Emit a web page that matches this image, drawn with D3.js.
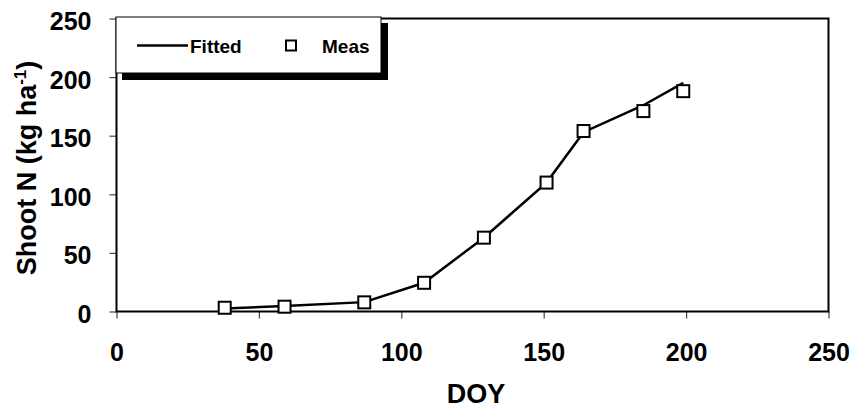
<!DOCTYPE html>
<html>
<head>
<meta charset="utf-8">
<script src="https://cdn.jsdelivr.net/npm/d3@7"></script>
<style>
  html, body { margin: 0; padding: 0; background: #fff; }
  svg { display: block; font-family: "Liberation Sans", Arial, sans-serif; font-weight: bold; }
</style>
</head>
<body>
<div id="chart"></div>
<script>
// measured and fitted shoot N over the season
const doy = [38, 59, 87, 108, 129, 151, 164, 185, 199];
const measN = [3.2, 4.1, 7.8, 24.5, 63, 110, 154, 171, 188];
const fittedN = [2.5, 4.6, 8, 24.5, 63, 110, 153, 176, 195];
const xTicks = [0, 50, 100, 150, 200, 250];
const yTicks = [0, 50, 100, 150, 200, 250];

const W = 856, H = 410;
const svg = d3.select('#chart').append('svg').attr('width', W).attr('height', H);

const x = d3.scaleLinear().domain([0, 250]).range([116.5, 828.5]);
const y = d3.scaleLinear().domain([0, 250]).range([311.5, 18.5]);

// x axis ticks + labels
const gx = svg.append('g').attr('transform', `translate(0,${y(0)})`)
  .call(d3.axisBottom(x).tickValues(xTicks).tickSize(7).tickSizeOuter(0).tickPadding(25));
gx.select('.domain').remove();
gx.selectAll('line').attr('stroke', '#444').attr('stroke-width', 1.2);
gx.selectAll('text').attr('font-size', 25).attr('font-family', null).attr('fill', '#000');

// y axis ticks + labels
const gy = svg.append('g').attr('transform', `translate(${x(0)},0)`)
  .call(d3.axisLeft(y).tickValues(yTicks).tickSize(7).tickSizeOuter(0).tickPadding(18));
gy.select('.domain').remove();
gy.selectAll('line').attr('stroke', '#444').attr('stroke-width', 1.2);
gy.selectAll('text').attr('font-size', 25).attr('font-family', null).attr('fill', '#000').attr('dy', '0.44em');

// frame: axes plus top and right edge
svg.append('path')
  .attr('d', `M${x(0)},${y(250)} V${y(0)} H${x(250)} V${y(250)} Z`)
  .attr('fill', 'none').attr('stroke', '#000').attr('stroke-width', 2);

// fitted line
const line = d3.line().x((d, i) => x(doy[i])).y(d => y(d));
svg.append('path').attr('d', line(fittedN))
  .attr('fill', 'none').attr('stroke', '#000').attr('stroke-width', 2.5);

// measured points
const sz = 12;
svg.append('g').selectAll('rect').data(measN).join('rect')
  .attr('x', (d, i) => x(doy[i]) - sz / 2)
  .attr('y', d => y(d) - sz / 2)
  .attr('width', sz).attr('height', sz)
  .attr('fill', '#fff').attr('stroke', '#000').attr('stroke-width', 2);

// axis titles
svg.append('text').attr('x', 476).attr('y', 403).attr('text-anchor', 'middle')
  .attr('font-size', 27).text('DOY');

const yt = svg.append('text').attr('transform', 'translate(36,168) rotate(-90)')
  .attr('text-anchor', 'middle').attr('font-size', 27);
yt.append('tspan').text('Shoot N (kg ha');
yt.append('tspan').attr('font-size', 17).attr('dy', '-0.6em').text('-1');
yt.append('tspan').attr('dy', '0.38em').text(')');

// legend with drop shadow
const lg = svg.append('g');
lg.append('rect').attr('x', 122).attr('y', 23).attr('width', 266).attr('height', 57).attr('fill', '#000');
lg.append('rect').attr('x', 116).attr('y', 17).attr('width', 265).attr('height', 56)
  .attr('fill', '#fff').attr('stroke', '#000').attr('stroke-width', 1);
lg.append('line').attr('x1', 137).attr('x2', 188).attr('y1', 45.5).attr('y2', 45.5)
  .attr('stroke', '#000').attr('stroke-width', 2.5);
lg.append('text').attr('x', 190).attr('y', 52.5).attr('font-size', 19).text('Fitted');
lg.append('rect').attr('x', 286).attr('y', 40.5).attr('width', 10).attr('height', 10)
  .attr('fill', '#fff').attr('stroke', '#000').attr('stroke-width', 2);
lg.append('text').attr('x', 322).attr('y', 52.5).attr('font-size', 19).text('Meas');
</script>
</body>
</html>
